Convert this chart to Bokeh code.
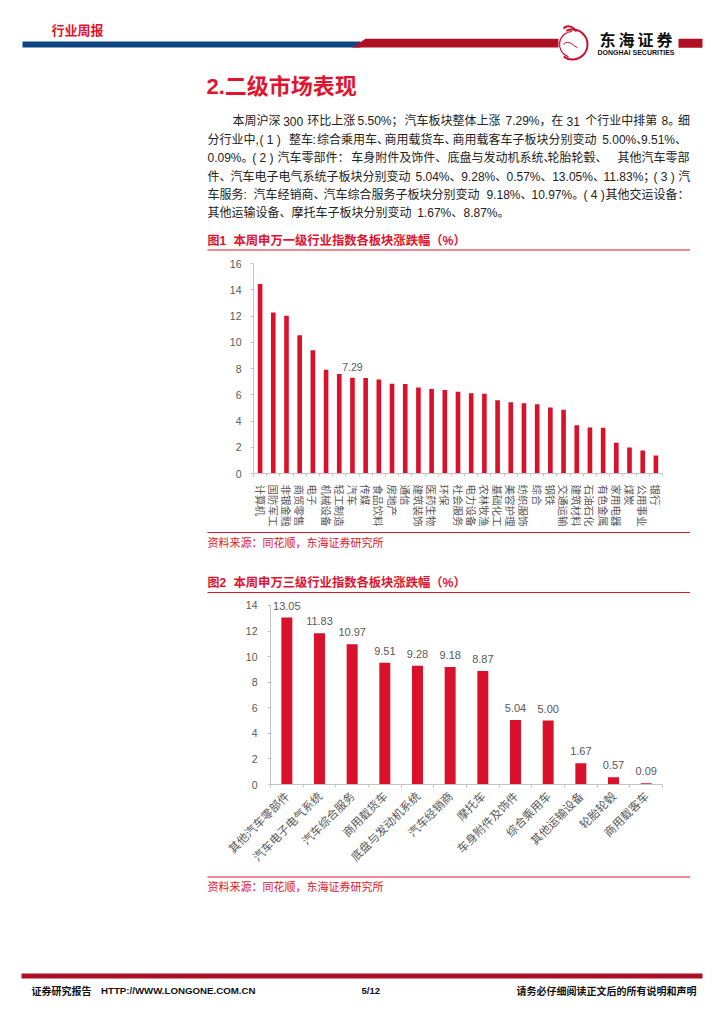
from bokeh.plotting import figure
from bokeh.layouts import column
from bokeh.models import Range1d, LinearAxis, FixedTicker
from bokeh.core.properties import value
from bokeh.embed import file_html
from bokeh.resources import INLINE

# ---------- data ----------
cats1 = ["计算机","国防军工","非银金融","商贸零售","电子","机械设备","轻工制造","汽车","传媒","食品饮料",
         "房地产","通信","建筑装饰","医药生物","环保","社会服务","电力设备","农林牧渔","基础化工","美容护理",
         "纺织服饰","综合","钢铁","交通运输","建筑材料","石油石化","有色金属","家用电器","煤炭","公用事业","银行"]
vals1 = [14.43,12.27,12.01,10.54,9.40,7.90,7.59,7.29,7.27,7.16,
         6.83,6.81,6.55,6.43,6.37,6.22,6.12,6.07,5.59,5.43,
         5.36,5.28,5.03,4.85,3.68,3.50,3.48,2.34,1.98,1.75,1.37]
highlight1 = "汽车"
yticks1 = [0,2,4,6,8,10,12,14,16]

cats2 = ["其他汽车零部件","汽车电子电气系统","汽车综合服务","商用载货车","底盘与发动机系统","汽车经销商",
         "摩托车","车身附件及饰件","综合乘用车","其他运输设备","轮胎轮毂","商用载客车"]
vals2 = [13.05,11.83,10.97,9.51,9.28,9.18,8.87,5.04,5.00,1.67,0.57,0.09]
yticks2 = [0,2,4,6,8,10,12,14]

# body paragraph: (row, [(x, fragment), ...]) so the justified lines keep their width
body_rows = [
 (120.7, [(232,"本周沪深"),(282.7,"300"),(306.7,"环比上涨"),(357,"5.50%；"),(404,"汽车板块整体上涨"),
          (505,"7.29%，"),(550.7,"在"),(566,"31"),(584.7,"个行业中排第"),(661,"8。"),(677.5,"细")]),
 (139,   [(207,"分行业中,"),(259,"( 1 )"),(288.5,"整车"),(312,":"),(316.5,"综合乘用车、"),(384,"商用载货车、"),
          (452,"商用载客车子板块分别变动"),(601.7,"5.00%、"),(640.5,"9.51%、")]),
 (157.5, [(207,"0.09%。"),(251.7,"( 2 )"),(277,"汽车零部件："),(350.7,"车身附件及饰件、"),(447,"底盘与发动机系统、"),
          (547,"轮胎轮毂、"),(617,"其他汽车零部")]),
 (176,   [(207,"件、"),(230,"汽车电子电气系统子板块分别变动"),(415,"5.04%、"),(460.7,"9.28%、"),(506,"0.57%、"),
          (551.7,"13.05%、"),(603,"11.83%；"),(653,"( 3 )"),(677.7,"汽")]),
 (194,   [(207,"车服务:"),(253,"汽车经销商、"),(323,"汽车综合服务子板块分别变动"),(486,"9.18%、"),(531,"10.97%。"),
          (583,"( 4 )"),(605,"其他交运设备：")]),
 (212.7, [(207,"其他运输设备、摩托车子板块分别变动"),(416.7,"1.67%、"),(463,"8.87%。")]),
]

# ---------- styles ----------
RED = "#d9112b"
TITLE_RED = "#e0142f"
BAND_RED = "#ae0f23"
BLUE = "#0f4583"
GRAY = "#595959"
AXIS = "#c4c4c4"
SANS = "Liberation Sans, Noto Sans CJK SC"
CJK = "Noto Sans CJK SC"
W = 716

def sheet(top, bottom):
    p = figure(width=W, height=bottom-top, x_range=Range1d(0, W), y_range=Range1d(bottom, top),
               output_backend="svg", toolbar_location=None, min_border=0,
               x_axis_location=None, y_axis_location=None, outline_line_color=None)
    p.xgrid.visible = False
    p.ygrid.visible = False
    p.frame_align = False
    return p

def txt(p, x, y, s, size, color, bold=False, align="left", font=SANS):
    p.text([x],[y],text=[s],text_font=value(font),text_font_size=f"{size}px",
           text_color=color,text_font_style="bold" if bold else "normal",
           text_align=align,text_baseline="middle")

def rule(p, y, x0=207, x1=689.5):
    p.quad(left=[x0],right=[x1],top=[y-0.6],bottom=[y+0.6],fill_color="#e0142f",line_color=None)

def chart(cats, vals, yticks, top, bottom, left, frame_top, frame_bottom, ymax, ytop, bar_w, orient, font_x, standoff, ystand):
    p = figure(frame_width=662-left, frame_height=frame_bottom-frame_top,
               x_range=Range1d(0,len(cats)), y_range=Range1d(0,ymax),
               output_backend="svg", toolbar_location=None,
               x_axis_location=None, y_axis_location=None, outline_line_color=None,
               min_border_left=left, min_border_right=W-662,
               min_border_top=frame_top-top, min_border_bottom=bottom-frame_bottom)
    p.frame_align = False
    p.xgrid.visible = False
    p.ygrid.visible = False
    centers = [i+0.5 for i in range(len(cats))]
    p.vbar(x=centers, top=vals, width=bar_w, bottom=0, fill_color=RED, line_color=None)
    xa = LinearAxis(ticker=FixedTicker(ticks=centers, minor_ticks=list(range(len(cats)+1))))
    xa.major_label_overrides = {c: n for c, n in zip(centers, cats)}
    xa.major_label_orientation = orient
    xa.major_label_text_font = CJK
    xa.major_label_text_font_size = f"{font_x}px"
    xa.major_label_text_color = GRAY
    xa.major_label_standoff = standoff
    xa.major_tick_line_color = None
    xa.major_tick_in = 0; xa.major_tick_out = 0
    xa.minor_tick_in = 0; xa.minor_tick_out = 3
    xa.minor_tick_line_color = AXIS
    xa.axis_line_color = AXIS
    p.add_layout(xa, "below")
    ya = LinearAxis(ticker=FixedTicker(ticks=yticks), bounds=(0, ytop))
    ya.major_label_text_font = "Liberation Sans"
    ya.major_label_text_font_size = "10.5px"
    ya.major_label_text_color = GRAY
    ya.major_label_standoff = ystand
    ya.major_tick_in = 0; ya.major_tick_out = 3
    ya.major_tick_line_color = AXIS
    ya.axis_line_color = AXIS
    p.add_layout(ya, "left")
    return p, centers

# ---------- header ----------
h = sheet(0, 255)
h.quad(left=[22],right=[360],top=[41],bottom=[47],fill_color=BLUE,line_color=None)
h.patch([352,365,558,558],[47,38.3,38.3,47],fill_color=BAND_RED,line_color=None)
h.quad(left=[678],right=[702],top=[38.3],bottom=[47.3],fill_color=BAND_RED,line_color=None)
# logo
h.arc([572],[44],radius=15,start_angle=-2.2,end_angle=2.0,line_color="#c8102e",line_width=2)
h.arc([572],[44],radius=13,start_angle=1.6,end_angle=4.4,line_color="#c8102e",line_width=1.2)
h.bezier([563],[28],[576],[31],[567],[24],[573],[26],line_color="#c8102e",line_width=2)
h.bezier([563],[44],[577],[47],[568],[38],[573],[46],line_color="#c8102e",line_width=1)
for x, ch in zip([607,626,645,664], "东海证券"):
    txt(h, x, 38, ch, 16, "#111111", bold=True, align="center", font=CJK)
txt(h, 635.5, 52, "DONGHAI SECURITIES", 7, "#111111", bold=True, align="center", font="Liberation Sans")
txt(h, 51, 28.5, "行业周报", 13, TITLE_RED, bold=True, font=CJK)
txt(h, 206, 86, "2.二级市场表现", 22, TITLE_RED, bold=True)
for y, frags in body_rows:
    for x, s in frags:
        txt(h, x, y, s, 12, "#222222")
txt(h, 207, 240, "图1", 12, TITLE_RED, bold=True)
txt(h, 233, 240, "本周申万一级行业指数各板块涨跌幅（%）", 12.3, TITLE_RED, bold=True)
rule(h, 249.5)

# ---------- chart 1 ----------
c1, cen1 = chart(cats1, vals1, yticks1, 255, 529, 253, 263, 473, 16, 16, 0.35, "vertical", 10.5, 8, 9)
i = cats1.index(highlight1)
c1.text([cen1[i]],[vals1[i]],text=[f"{vals1[i]:.2f}"],text_font=value("Liberation Sans"),text_font_size="10.5px",
        text_color=GRAY,text_align="center",text_baseline="middle",y_offset=-11)

# ---------- middle ----------
m = sheet(529, 594)
rule(m, 532)
txt(m, 207, 541.5, "资料来源：同花顺，东海证券研究所", 11, TITLE_RED, font=CJK)
txt(m, 207, 582.5, "图2", 12, TITLE_RED, bold=True)
txt(m, 233, 582.5, "本周申万三级行业指数各板块涨跌幅（%）", 12.3, TITLE_RED, bold=True)
rule(m, 592)

# ---------- chart 2 ----------
c2, cen2 = chart(cats2, vals2, yticks2, 594, 870, 270, 597, 784, 14.62, 14, 0.336, 0.785, 11.5, 6, 10)
c2.text(cen2, vals2, text=[f"{v:.2f}" for v in vals2], text_font=value("Liberation Sans"), text_font_size="11px",
        text_color=GRAY, text_align="center", text_baseline="middle", y_offset=-12)

# ---------- footer ----------
f = sheet(870, 1016)
rule(f, 874.5)
txt(f, 207, 883.5, "资料来源：同花顺，东海证券研究所", 11, TITLE_RED, font=CJK)
f.quad(left=[21],right=[702],top=[971],bottom=[976],fill_color=BAND_RED,line_color=None)
txt(f, 31, 988, "证券研究报告", 10, "#111111", bold=True, font=CJK)
txt(f, 100.5, 988, "HTTP://WWW.LONGONE.COM.CN", 9.7, "#111111", bold=True, font="Liberation Sans")
txt(f, 361, 988, "5/12", 9.5, "#111111", bold=True, font="Liberation Sans")
txt(f, 696, 988, "请务必仔细阅读正文后的所有说明和声明", 10, "#111111", bold=True, align="right", font=CJK)

page = column(h, c1, m, c2, f, spacing=0)
open("out.html", "w").write(file_html(page, INLINE))
